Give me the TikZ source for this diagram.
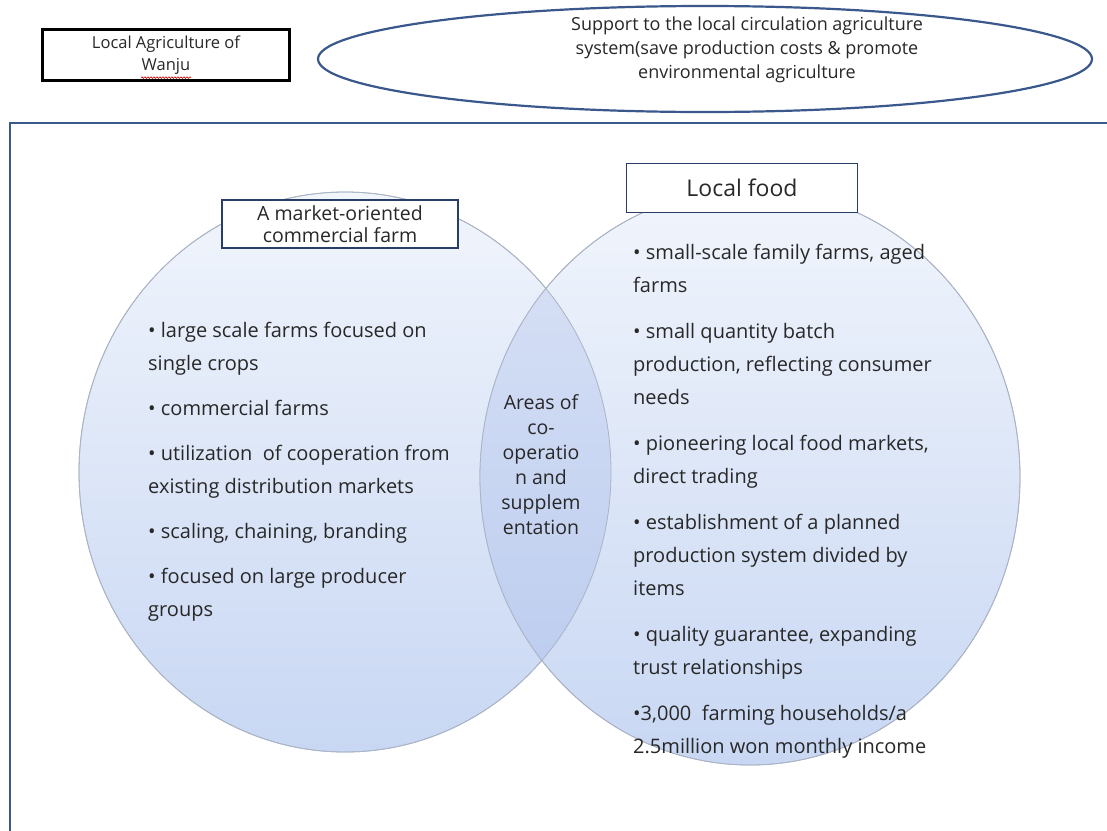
\documentclass[tikz,border=0pt]{standalone}
\usepackage{fontspec}
\setmainfont{Open Sans}
\usepackage{tikz}
\usetikzlibrary{shapes.geometric, positioning, decorations.pathmorphing}

\definecolor{framebl}{RGB}{58,88,140}
\definecolor{boxnavy}{RGB}{40,62,105}
\definecolor{ringgray}{RGB}{170,180,196}
\definecolor{vennTop}{RGB}{241,245,252}
\definecolor{vennBot}{RGB}{200,215,243}
\definecolor{lensTop}{RGB}{218,227,246}
\definecolor{lensBot}{RGB}{184,201,238}
\definecolor{inktext}{RGB}{40,40,40}

\begin{document}
\begin{tikzpicture}[x=1pt, y=-1pt]
\tikzstyle{titlebox} = [rectangle, draw=black, line width=2.2pt, minimum width=247pt, minimum height=51pt, font=\fontsize{16.5}{22}\selectfont, align=center, text=inktext]
\tikzstyle{headbox} = [rectangle, draw=boxnavy, fill=white, line width=1.8pt, align=center, text=inktext]
\tikzstyle{venn} = [ellipse, draw=ringgray, line width=0.8pt, top color=vennTop, bottom color=vennBot]
\tikzstyle{itemlist} = [anchor=north west, align=left, inner sep=0pt, font=\fontsize{20}{33}\selectfont, text=inktext]

\clip (0,0) rectangle (1107,830);
\fill[white] (0,0) rectangle (1107,830);

% outer frame, open to the right and bottom
\draw[framebl, line width=2.2pt] (10,123) rectangle (1140,870);

% heading row
\node (wanju) [titlebox] at (166,55) {Local Agriculture of\\Wanju};
\draw[red!80!black, line width=0.6pt, decorate, decoration={snake, amplitude=0.8pt, segment length=3pt}]
  ([xshift=-25pt, yshift=4pt]wanju.south) -- ([xshift=25pt, yshift=4pt]wanju.south);
\node (support) [ellipse, draw=framebl, line width=2.2pt, minimum width=774pt, minimum height=106pt] at (705,59) {};
\node (supporttext) [align=center, font=\fontsize{18}{24}\selectfont, text=inktext] at (747,50)
  {Support to the local circulation agriculture\\system(save production costs \& promote\\environmental agriculture};

% the two circles and their overlap
\node (farmring) [venn, minimum width=532pt, minimum height=560pt] at (345,472) {};
\node (foodring) [venn, minimum width=540pt, minimum height=576pt] at (750,477) {};
\begin{scope}
  \clip (farmring.center) ellipse [x radius=266pt, y radius=280pt];
  \shade[top color=lensTop, bottom color=lensBot] (foodring.center) ellipse [x radius=270pt, y radius=288pt];
\end{scope}
\draw[ringgray, line width=0.8pt] (farmring.center) ellipse [x radius=266pt, y radius=280pt]
  (foodring.center) ellipse [x radius=270pt, y radius=288pt];

\node (market) [headbox, minimum width=236pt, minimum height=48pt, font=\fontsize{19.5}{22}\selectfont] at (340,224)
  {A market-oriented\\commercial farm};
\node (localfood) [headbox, minimum width=231pt, minimum height=49pt, font=\fontsize{23}{26}\selectfont] at (742,188)
  {Local food};

\node (farmlist) [itemlist] at (148,322) {%
• large scale farms focused on\\single crops\\[12pt]
• commercial farms\\[12pt]
• utilization\ \ of cooperation from\\existing distribution markets\\[12pt]
• scaling, chaining, branding\\[12pt]
• focused on large producer\\groups};

\node (coop) [align=center, font=\fontsize{19.5}{25}\selectfont, text=inktext] at (541,465)
  {Areas of\\co-\\operatio\\n and\\supplem\\entation};

\node (foodlist) [itemlist] at (633,244) {%
• small-scale family farms, aged\\farms\\[13pt]
• small quantity batch\\production, reflecting consumer\\needs\\[13pt]
• pioneering local food markets,\\direct trading\\[13pt]
• establishment of a planned\\production system divided by\\items\\[13pt]
• quality guarantee, expanding\\trust relationships\\[13pt]
•3,000\ \ farming households/a\\2.5million won monthly income};

\end{tikzpicture}
\end{document}
